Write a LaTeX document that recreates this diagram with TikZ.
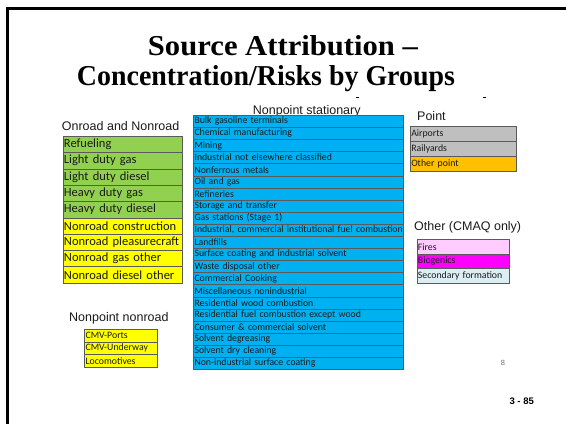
\documentclass[tikz,border=0pt]{standalone}
\usepackage{fontspec}
\setmainfont{Carlito}
\newfontfamily\arialf{Liberation Sans}
\newfontfamily\titlef{Liberation Serif}
\definecolor{cgreen}{HTML}{92D050}
\definecolor{cyellow}{HTML}{FFFF00}
\definecolor{cblue}{HTML}{00B0F0}
\definecolor{cgray}{HTML}{BFBFBF}
\definecolor{corange}{HTML}{FFC000}
\definecolor{cpink}{HTML}{FFCCFF}
\definecolor{cmag}{HTML}{FF00FF}
\definecolor{ccyan}{HTML}{DAEEF3}
\definecolor{cline}{HTML}{5A5A5A}
\definecolor{ctext}{HTML}{1A1A1A}
\begin{document}
\begin{tikzpicture}[x=1pt,y=-1pt,
  cell/.style={draw=cline, line width=0.5pt, anchor=north west, inner xsep=1pt, inner ysep=0pt, align=left, text=ctext},
  gcell/.style={cell, minimum width=119pt, text width=117pt, minimum height=16.3pt, font=\fontsize{12.5}{12.5}\selectfont},
  bcell/.style={cell, fill=cblue, minimum width=210pt, text width=208pt, minimum height=12.1pt, font=\fontsize{9.75}{9.75}\selectfont},
  pcell/.style={cell, minimum width=106pt, text width=104pt, minimum height=15pt, font=\fontsize{9.8}{9.8}\selectfont},
  ocell/.style={cell, minimum width=92.6pt, text width=90.6pt, minimum height=14.5pt, font=\fontsize{9.8}{9.8}\selectfont},
  ncell/.style={cell, fill=cyellow, minimum width=73pt, text width=71pt, minimum height=12.5pt, font=\fontsize{9.8}{9.8}\selectfont},
  grouplabel/.style={anchor=base west, inner sep=0pt, text=ctext, font=\arialf\fontsize{12.5}{12.5}\selectfont}]
\useasboundingbox (0,0) rectangle (566,424);
% frame
\draw[line width=3pt] (7.5,424) -- (7.5,8.2) -- (566,8.2);
% title
\node[anchor=base, inner sep=0pt] (t1) at (283,55) {\resizebox{270pt}{20pt}{\titlef\bfseries Source Attribution \textendash}};
\node[anchor=base, inner sep=0pt] (t2) at (266,85) {\resizebox{378pt}{20pt}{\titlef\bfseries Concentration/Risks by Groups}};
% small marks under the title
\draw[line width=1pt] (356,97.5) -- (359,97.5);
\draw[line width=1pt] (483,97.5) -- (486,97.5);
% group labels
\node[grouplabel] (lon) at (61.7,130.7) {Onroad and Nonroad};
\node[grouplabel] (lns) at (252.7,114) {Nonpoint stationary};
\node[grouplabel] (lpt) at (417,120.7) {Point};
\node[grouplabel] (lot) at (414,230.7) {Other (CMAQ only)};
\node[grouplabel] (lnn) at (69,321.7) {Nonpoint nonroad};
% onroad and nonroad
\foreach \t [count=\i from 0] in {Refueling, Light duty gas, Light duty diesel, Heavy duty gas, Heavy duty diesel}
  \node[gcell, fill=cgreen] (g\i) at (62.7,{136+16.3*\i}) {\mbox{\t}};
\foreach \t [count=\i from 5] in {Nonroad construction, Nonroad pleasurecraft, Nonroad gas other, Nonroad diesel other}
  \node[gcell, fill=cyellow] (g\i) at (62.7,{136+16.3*\i}) {\mbox{\t}};
% nonpoint stationary
\foreach \t [count=\i from 0] in {Bulk gasoline terminals, Chemical manufacturing, Mining, Industrial not elsewhere classified, Nonferrous metals, Oil and gas, Refineries, Storage and transfer, Gas stations (Stage 1), {Industrial, commercial institutional fuel combustion}, Landfills, Surface coating and industrial solvent, Waste disposal other, Commercial Cooking, Miscellaneous nonindustrial, Residential wood combustion, Residential fuel combustion except wood, Consumer \& commercial solvent, Solvent degreasing, Solvent dry cleaning, Non-industrial surface coating}
  \node[bcell] (b\i) at (193.3,{115+12.1*\i}) {\mbox{\t}};
% point
\node[pcell, fill=cgray] (p0) at (410,126) {Airports};
\node[pcell, fill=cgray] (p1) at (410,141) {Railyards};
\node[pcell, fill=corange] (p2) at (410,156) {Other point};
% other
\node[ocell, fill=cpink] (o0) at (416.7,239.3) {Fires};
\node[ocell, fill=cmag] (o1) at (416.7,253.8) {Biogenics};
\node[ocell, fill=ccyan] (o2) at (416.7,268.3) {Secondary formation};
% nonpoint nonroad
\node[ncell] (n0) at (84.3,329.3) {CMV-Ports};
\node[ncell] (n1) at (84.3,341.8) {CMV-Underway};
\node[ncell] (n2) at (84.3,354.3) {Locomotives};
% page numbers
\node[inner sep=0pt, text=black!55, font=\arialf\fontsize{7.5}{7.5}\selectfont] (pg) at (503,363) {8};
\node[inner sep=0pt, font=\arialf\bfseries\fontsize{9.5}{9.5}\selectfont] (sl) at (521.7,401.7) {3 - 85};
\end{tikzpicture}
\end{document}
